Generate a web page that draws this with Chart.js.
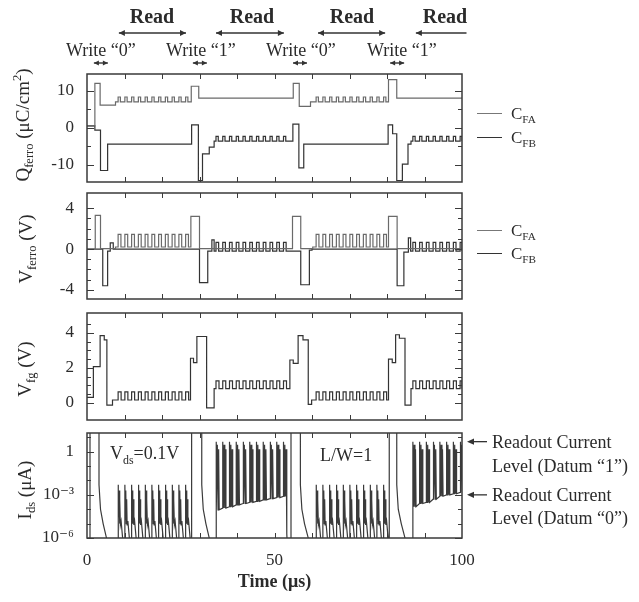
<!DOCTYPE html>
<html>
<head>
<meta charset="utf-8">
<title>FeFET write / read waveforms</title>
<script src="https://cdn.jsdelivr.net/npm/chart.js@4.4.1/dist/chart.umd.min.js"></script>
<style>
  body { margin: 0; background: #fff; }
  #fig { position: relative; width: 639px; height: 602px; overflow: hidden;
         font-family: "Liberation Serif", "DejaVu Serif", serif; color: #2b2b2b; }
  #fig canvas { position: absolute; left: 0; }
  .t { position: absolute; white-space: nowrap; line-height: 1; font-size: 18px; }
  .c { transform: translate(-50%, -50%); }
  .m { transform: translateY(-50%); }
  .rot { transform: translate(-50%, -50%) rotate(-90deg); font-size: 19px; }
  .read { font-weight: bold; font-size: 20px; }
  .leg { position: absolute; left: 477px; width: 25px; height: 0; border-top: 1.3px solid #555; }
  sub, sup { font-size: 0.66em; line-height: 0; }
</style>
</head>
<body>
<div id="fig">
  <canvas id="cQ" width="639" height="212" style="top:0px"></canvas>
  <canvas id="cV" width="639" height="166" style="top:163px"></canvas>
  <canvas id="cG" width="639" height="167" style="top:283px"></canvas>
  <canvas id="cI" width="639" height="199" style="top:403px"></canvas>

  <!-- header -->
  <div class="t c read" style="left:152px;top:16px">Read</div>
  <div class="t c read" style="left:252px;top:16px">Read</div>
  <div class="t c read" style="left:352px;top:16px">Read</div>
  <div class="t c read" style="left:445px;top:16px">Read</div>
  <div class="t m" style="left:66px;top:50px">Write “0”</div>
  <div class="t m" style="left:166px;top:50px">Write “1”</div>
  <div class="t m" style="left:266px;top:50px">Write “0”</div>
  <div class="t m" style="left:367px;top:50px">Write “1”</div>

  <!-- y titles -->
  <div class="t rot" style="left:22px;top:125px">Q<sub>ferro</sub> (μC/cm<sup>2</sup>)</div>
  <div class="t rot" style="left:25px;top:249px">V<sub>ferro</sub> (V)</div>
  <div class="t rot" style="left:24px;top:369px">V<sub>fg</sub> (V)</div>
  <div class="t rot" style="left:24px;top:490px">I<sub>ds</sub> (μA)</div>

  <!-- legends -->
  <div class="leg" style="top:113px;border-color:#777"></div>
  <div class="t m" style="left:511px;top:113px;font-size:17px">C<sub>FA</sub></div>
  <div class="leg" style="top:137px;border-color:#333"></div>
  <div class="t m" style="left:511px;top:137px;font-size:17px">C<sub>FB</sub></div>
  <div class="leg" style="top:230px;border-color:#777"></div>
  <div class="t m" style="left:511px;top:230px;font-size:17px">C<sub>FA</sub></div>
  <div class="leg" style="top:253px;border-color:#333"></div>
  <div class="t m" style="left:511px;top:253px;font-size:17px">C<sub>FB</sub></div>

  <!-- current panel notes -->
  <div class="t m" style="left:110px;top:453px">V<sub>ds</sub>=0.1V</div>
  <div class="t m" style="left:320px;top:455px">L/W=1</div>
  <div class="t m" style="left:492px;top:442px">Readout Current</div>
  <div class="t m" style="left:492px;top:466px">Level (Datum “1”)</div>
  <div class="t m" style="left:492px;top:495px">Readout Current</div>
  <div class="t m" style="left:492px;top:518px">Level (Datum “0”)</div>
</div>

<script>
// read pulse times (µs)
const read0T = [8.3, 10.1, 11.9, 13.7, 15.5, 17.3, 19.1, 20.9, 22.7, 24.5, 26.3,
                61.1, 62.9, 64.7, 66.5, 68.3, 70.1, 71.9, 73.7, 75.5, 77.3, 79.1];
const read1T = [34.4, 36.2, 38.0, 39.8, 41.6, 43.4, 45.2, 47.0, 48.8, 50.6, 52.4,
                86.9, 88.7, 90.5, 92.3, 94.1, 95.9, 97.7, 99.5];

// header marks
const readSpans = [[8.5, 26.4], [34.4, 52.5], [61.6, 79.5], [87.7, 101.2]];
const writeMarks = [3.7, 30.1, 56.8, 82.7];

// axis ticks
const timeTicks = [0, 50, 100];
const timeMinor = [10, 20, 30, 40, 50, 60, 70, 80, 90];
const qTicks = [-10, 0, 10];
const qMinor = [-5, 5];
const vfTicks = [-4, 0, 4];
const vfMinor = [-3, -2, -1, 1, 2, 3];
const vgTicks = [0, 2, 4];
const vgMinor = [0.5, 1, 1.5, 2.5, 3, 3.5, 4.5];
const idsTicks = [1e-6, 1e-3, 1];
const idsLabels = ['10⁻⁶', '10⁻³', '1'];
const idsMinor = [1e-5, 1e-4, 1e-2, 1e-1, 10];

// Q_ferro (µC/cm²): [time, level] steps, ripple [base, peak]
const qFaSteps = [[0, 0.5], [2.1, 12.0], [3.5, 6.1], [7.6, 7.0], [27.8, 11.2], [29.8, 8.0],
                  [55.0, 12.0], [56.6, 5.8], [59.6, 7.0], [80.4, 13.0], [82.6, 8.0], [100, 8.0]];
const qFaRipple = [7.0, 8.3];
const qFbSteps = [[0, 0.5], [2.1, -0.6], [3.6, -11.5], [5.5, -4.4], [27.9, 0.8], [29.7, -14.2],
                  [30.8, -7.0], [32.6, -5.2], [33.9, -3.6], [54.9, 1.0], [56.5, -10.8], [57.8, -4.4],
                  [80.3, 0.8], [81.5, -1.6], [82.6, -14.2], [84.1, -9.8], [85.6, -4.4], [86.4, -3.6], [100, -3.6]];
const qFbRipple = [-3.6, -2.3];

// V_ferro (V)
const vFaSteps = [[0, 0], [2.2, 3.3], [3.6, 0.05], [7.6, 0.2], [27.7, 3.2], [30.0, 0.05],
                  [54.8, 3.2], [57.0, 0.05], [60.2, 0.2], [80.4, 3.2], [82.7, 0.05], [100, 0.05]];
const vFaRipple = [0.2, 1.45];
const vFbSteps = [[0, 0], [4.2, -3.6], [5.5, -0.2], [6.2, 0.6], [7.0, 0], [30.0, -3.3], [32.2, -0.2],
                  [33.3, 0.9], [33.9, -0.2], [57.0, -3.5], [59.3, -0.1], [60.0, 0], [82.7, -3.6],
                  [84.5, -0.3], [85.7, 1.1], [86.3, -0.2], [100, -0.2]];
const vFbRipple = [-0.2, 0.65];

// V_fg (V)
const vgSteps = [[0, 0.3], [1.7, 2.07], [3.5, 3.85], [4.6, 3.6], [5.3, -0.15], [6.8, 0.15],
                 [27.6, 2.55], [28.4, 2.3], [29.3, 3.8], [31.9, -0.3], [33.9, 0.8],
                 [54.1, 2.45], [55.0, 2.25], [56.3, 3.85], [57.6, 3.6], [59.0, -0.1], [59.9, 0.15],
                 [80.4, 2.5], [81.4, 2.3], [82.3, 3.9], [83.3, 3.7], [84.8, -0.15], [86.4, 0.8], [100, 0.8]];
const vgRipple0 = [0.15, 0.62];
const vgRipple1 = [0.8, 1.25];

// I_ds (µA): write transients, read spikes
const idsSteps = [[0, 3e-8], [0.8, 3e-8], [0.8, 100], [3.2, 100], [3.2, 5e-3], [3.6, 1e-4], [4.3, 1e-5],
                  [5.2, 1e-6], [5.9, 3e-8], [8.3, 3e-8],
                  [27.9, 3e-8], [27.9, 100], [30.6, 100], [30.6, 5e-3], [31.0, 1e-4], [31.7, 1e-5],
                  [32.6, 1e-6], [33.3, 3e-8], [34.4, 3e-8],
                  [53.3, 2e-6], [53.6, 3e-8], [54.4, 3e-8], [54.4, 100], [56.9, 100], [56.9, 5e-3],
                  [57.3, 1e-4], [58.0, 1e-5], [59.0, 1e-6], [59.8, 3e-8], [61.1, 3e-8],
                  [80.6, 3e-8], [80.6, 100], [82.6, 100], [82.6, 5e-3], [83.0, 1e-4], [83.8, 1e-5],
                  [84.8, 1e-6], [85.5, 3e-8], [86.9, 3e-8]];
// datum "0" read spike: offsets (µs) and current (µA)
const spike0Dt = [0, 0, 0.12, 0.24, 0.36, 0.48, 0.6, 0.8, 1.3];
const spike0I = [3e-7, 5e-3, 2e-5, 2e-3, 1e-5, 5e-4, 8e-6, 1.5e-5, 5e-7];
// datum "1" read spike: offsets and peaks between returns to the floor
const spike1Dt = [0, 0.2, 0.35, 0.55, 0.7, 0.85];
const spike1Peaks = [5, 3, 1.5];
const floor1 = [9e-5, 1.2e-4, 1.5e-4, 2e-4, 2.5e-4, 3e-4, 3.5e-4, 4.5e-4, 5.5e-4, 6.5e-4, 8e-4,
                1.5e-4, 2.5e-4, 3e-4, 5e-4, 8e-4, 1e-3, 1.2e-3, 1.5e-3];
const datumLevels = [5, 1e-3];

// ---- build helpers ----
const pts = arr => arr.map(([x, y]) => ({ x, y }));
const comb = (times, [base, peak], w) => times.flatMap(t => [{ x: t, y: peak }, { x: t + w, y: base }]);
const byX = arr => arr.slice().sort((a, b) => a.x - b.x);

function spikes0(times) {
    return times.flatMap(t => spike0Dt.map((d, k) => ({ x: t + d, y: spike0I[k] })));
}
function spikes1(times, floors) {
    return times.flatMap((t, i) => {
        const f = floors[i];
        return [{ x: t, y: f },
                { x: t + spike1Dt[0], y: spike1Peaks[0] }, { x: t + spike1Dt[1], y: f },
                { x: t + spike1Dt[2], y: spike1Peaks[1] }, { x: t + spike1Dt[3], y: f },
                { x: t + spike1Dt[4], y: spike1Peaks[2] }, { x: t + spike1Dt[5], y: f }];
    });
}

const FONT = "'Liberation Serif', 'DejaVu Serif', serif";
const INK = '#2b2b2b';

// frame with inward tick marks on all four sides
function frame(major, minor) {
    return {
        id: 'frame',
        afterDatasetsDraw(chart) {
            const { ctx, chartArea: a, scales: { x, y } } = chart;
            ctx.save();
            ctx.strokeStyle = '#3a3a3a';
            ctx.lineWidth = 1.5;
            ctx.strokeRect(a.left, a.top, a.right - a.left, a.bottom - a.top);
            ctx.lineWidth = 1;
            ctx.beginPath();
            timeMinor.forEach(v => {
                const px = Math.round(x.getPixelForValue(v)) + 0.5;
                ctx.moveTo(px, a.top); ctx.lineTo(px, a.top + 5);
                ctx.moveTo(px, a.bottom); ctx.lineTo(px, a.bottom - 5);
            });
            const tick = (v, len) => {
                const py = Math.round(y.getPixelForValue(v)) + 0.5;
                ctx.moveTo(a.left, py); ctx.lineTo(a.left + len, py);
                ctx.moveTo(a.right, py); ctx.lineTo(a.right - len, py);
            };
            major.forEach(v => tick(v, 7));
            minor.forEach(v => tick(v, 4));
            ctx.stroke();
            ctx.restore();
        }
    };
}

function arrowHead(ctx, x, y, dir, len, half) {
    ctx.beginPath();
    ctx.moveTo(x, y);
    ctx.lineTo(x - dir * len, y - half);
    ctx.lineTo(x - dir * len, y + half);
    ctx.closePath();
    ctx.fill();
}

const headerArrows = {
    id: 'headerArrows',
    afterDraw(chart) {
        const { ctx, scales: { x } } = chart;
        ctx.save();
        ctx.strokeStyle = '#333';
        ctx.fillStyle = '#333';
        ctx.lineWidth = 1.4;
        readSpans.forEach(([a, b]) => {
            const x0 = x.getPixelForValue(a), x1 = x.getPixelForValue(b);
            ctx.beginPath(); ctx.moveTo(x0, 33); ctx.lineTo(x1, 33); ctx.stroke();
            arrowHead(ctx, x0, 33, -1, 6, 3);
            if (b <= 100) arrowHead(ctx, x1, 33, 1, 6, 3);
        });
        writeMarks.forEach(t => {
            const c = x.getPixelForValue(t);
            ctx.beginPath(); ctx.moveTo(c - 7, 63); ctx.lineTo(c + 7, 63); ctx.stroke();
            arrowHead(ctx, c - 7, 63, -1, 5, 2.6);
            arrowHead(ctx, c + 7, 63, 1, 5, 2.6);
        });
        ctx.restore();
    }
};

const datumArrows = {
    id: 'datumArrows',
    afterDraw(chart) {
        const { ctx, scales: { y } } = chart;
        ctx.save();
        ctx.strokeStyle = '#333';
        ctx.fillStyle = '#333';
        ctx.lineWidth = 1.3;
        datumLevels.forEach(v => {
            const py = y.getPixelForValue(v);
            ctx.beginPath(); ctx.moveTo(474, py); ctx.lineTo(487, py); ctx.stroke();
            arrowHead(ctx, 467, py, -1, 7, 3.2);
        });
        ctx.restore();
    }
};

function yAxis(type, min, max, ticks, labels) {
    return {
        type, min, max,
        grid: { display: false, drawTicks: false },
        border: { display: false },
        afterFit: s => { s.width = 87; },
        afterBuildTicks: s => { s.ticks = ticks.map(v => ({ value: v })); },
        ticks: {
            color: INK, padding: 13, font: { family: FONT, size: 17 },
            callback: (v, i) => labels[i]
        }
    };
}

const hiddenX = { type: 'linear', min: 0, max: 100, display: false };

function line(data, color, stepped, width) {
    return { data, borderColor: color, borderWidth: width || 1.2, stepped: stepped ? 'before' : false,
             pointRadius: 0, fill: false, tension: 0 };
}

function baseOptions(padTop, padBottom) {
    return {
        responsive: false, animation: false, devicePixelRatio: 1, events: [],
        layout: { padding: { left: 0, right: 177, top: padTop, bottom: padBottom } },
        plugins: { legend: { display: false }, tooltip: { enabled: false } }
    };
}

// ---- panel 1: Q_ferro ----
new Chart(document.getElementById('cQ'), {
    type: 'line',
    data: { datasets: [
        line(byX([...pts(qFaSteps), ...comb(read0T, qFaRipple, 0.6)]), '#6a6a6a', true),
        line(byX([...pts(qFbSteps), ...comb(read1T, qFbRipple, 0.6)]), '#333', true)
    ] },
    options: Object.assign(baseOptions(74, 30), {
        scales: { x: hiddenX, y: yAxis('linear', -14.6, 14.5, qTicks, qTicks.map(String)) }
    }),
    plugins: [frame(qTicks, qMinor), headerArrows]
});

// ---- panel 2: V_ferro ----
new Chart(document.getElementById('cV'), {
    type: 'line',
    data: { datasets: [
        line(byX([...pts(vFaSteps), ...comb(read0T, vFaRipple, 0.75)]), '#6a6a6a', true),
        line(byX([...pts(vFbSteps), ...comb(read1T, vFbRipple, 0.7)]), '#333', true)
    ] },
    options: Object.assign(baseOptions(30, 30), {
        scales: { x: hiddenX, y: yAxis('linear', -4.9, 5.5, vfTicks, vfTicks.map(String)) }
    }),
    plugins: [frame(vfTicks, vfMinor)]
});

// ---- panel 3: V_fg ----
new Chart(document.getElementById('cG'), {
    type: 'line',
    data: { datasets: [
        line(byX([...pts(vgSteps), ...comb(read0T, vgRipple0, 0.8), ...comb(read1T, vgRipple1, 0.8)]), '#333', true)
    ] },
    options: Object.assign(baseOptions(30, 30), {
        scales: { x: hiddenX, y: yAxis('linear', -1, 5.15, vgTicks, vgTicks.map(String)) }
    }),
    plugins: [frame(vgTicks, vgMinor)]
});

// ---- panel 4: I_ds (log) ----
new Chart(document.getElementById('cI'), {
    type: 'line',
    data: { datasets: [
        line(byX([...pts(idsSteps), ...spikes0(read0T), ...spikes1(read1T, floor1)]), '#3a3a3a', false, 1.2)
    ] },
    options: Object.assign(baseOptions(30, 4), {
        scales: {
            x: {
                type: 'linear', min: 0, max: 100,
                grid: { display: false, drawTicks: false },
                border: { display: false },
                afterFit: s => { s.height = 60; },
                afterBuildTicks: s => { s.ticks = timeTicks.map(v => ({ value: v })); },
                ticks: { color: INK, padding: 12, maxRotation: 0, font: { family: FONT, size: 17 } },
                title: { display: true, text: 'Time (μs)', color: INK, padding: { top: 0, bottom: 5 },
                         font: { family: FONT, size: 18, weight: 'bold' } }
            },
            y: yAxis('logarithmic', 1e-6, 20, idsTicks, idsLabels)
        }
    }),
    plugins: [frame(idsTicks, idsMinor), datumArrows]
});
</script>
</body>
</html>
